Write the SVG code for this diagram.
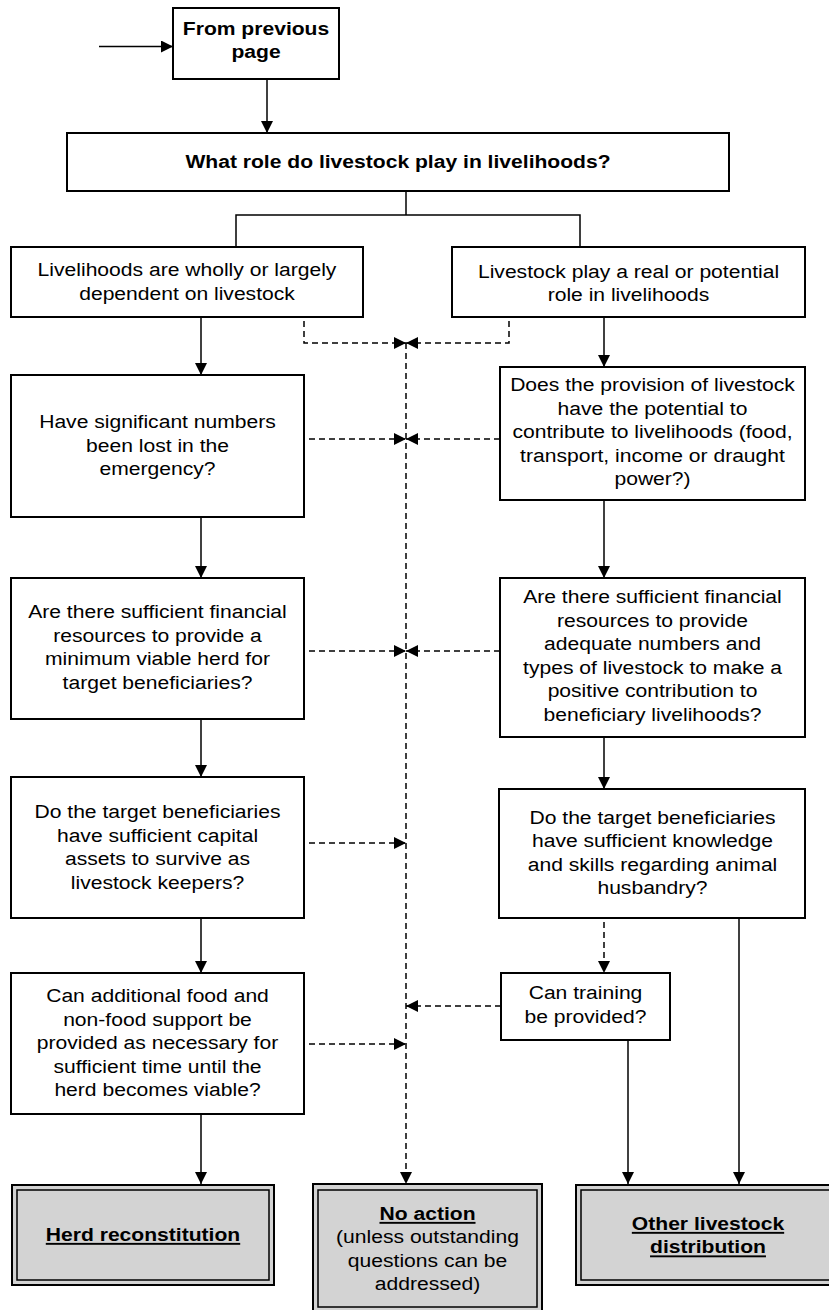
<svg xmlns="http://www.w3.org/2000/svg" width="829" height="1310" viewBox="0 0 829 1310">
<style>
.box{fill:#fff;stroke:#000;stroke-width:2}
.out{fill:#d3d3d3;stroke:#000;stroke-width:2}
.in{fill:none;stroke:#000;stroke-width:1.5}
.t{font-family:"Liberation Sans",Arial,sans-serif;font-size:19px;fill:#000;text-anchor:middle}
.b{font-weight:bold}
.u{text-decoration:underline}
.c{fill:none;stroke:#000;stroke-width:1.5}
.d{fill:none;stroke:#000;stroke-width:1.5;stroke-dasharray:6 4}
</style>
<defs>
<marker id="ah" markerUnits="userSpaceOnUse" markerWidth="12" markerHeight="12" refX="12" refY="6" orient="auto">
<path d="M0,0 L12,6 L0,12 z" fill="#000"/>
</marker>
</defs>
<g id="connectors">
<line class="c" x1="99" y1="46.5" x2="173" y2="46.5" marker-end="url(#ah)"/>
<line class="c" x1="267" y1="79" x2="267" y2="133" marker-end="url(#ah)"/>
<polyline class="c" points="406,191 406,215"/>
<polyline class="c" points="236,247 236,215 580,215 580,247"/>
<line class="c" x1="201" y1="317" x2="201" y2="375" marker-end="url(#ah)"/>
<line class="c" x1="201" y1="517" x2="201" y2="578" marker-end="url(#ah)"/>
<line class="c" x1="201" y1="719" x2="201" y2="777" marker-end="url(#ah)"/>
<line class="c" x1="201" y1="918" x2="201" y2="973" marker-end="url(#ah)"/>
<line class="c" x1="201" y1="1114" x2="201" y2="1184" marker-end="url(#ah)"/>
<line class="c" x1="604" y1="317" x2="604" y2="367" marker-end="url(#ah)"/>
<line class="c" x1="604" y1="500" x2="604" y2="578" marker-end="url(#ah)"/>
<line class="c" x1="604" y1="737" x2="604" y2="789" marker-end="url(#ah)"/>
<line class="d" x1="604" y1="922" x2="604" y2="973" marker-end="url(#ah)"/>
<line class="c" x1="628" y1="1040" x2="628" y2="1184" marker-end="url(#ah)"/>
<line class="c" x1="739" y1="918" x2="739" y2="1184" marker-end="url(#ah)"/>
<line class="d" x1="406" y1="343" x2="406" y2="1184" marker-end="url(#ah)"/>
<polyline class="d" points="304,321 304,343 406,343" marker-end="url(#ah)"/>
<polyline class="d" points="509,321 509,343 406,343" marker-end="url(#ah)"/>
<line class="d" x1="309" y1="439" x2="406" y2="439" marker-end="url(#ah)"/>
<line class="d" x1="500" y1="439" x2="406" y2="439" marker-end="url(#ah)"/>
<line class="d" x1="309" y1="651" x2="406" y2="651" marker-end="url(#ah)"/>
<line class="d" x1="500" y1="651" x2="406" y2="651" marker-end="url(#ah)"/>
<line class="d" x1="309" y1="843" x2="406" y2="843" marker-end="url(#ah)"/>
<line class="d" x1="501" y1="1006" x2="406" y2="1006" marker-end="url(#ah)"/>
<line class="d" x1="309" y1="1044" x2="406" y2="1044" marker-end="url(#ah)"/>
</g>
<g id="from-previous">
<rect class="box" x="173" y="8" width="166" height="71"/>
<text class="t b" transform="translate(256 0) scale(1.11 1)"><tspan x="0" y="35">From previous</tspan><tspan x="0" y="58.5">page</tspan></text>
</g>
<g id="role">
<rect class="box" x="67" y="133" width="662" height="58"/>
<text class="t b" transform="translate(398 0) scale(1.11 1)"><tspan x="0" y="168">What role do livestock play in livelihoods?</tspan></text>
</g>
<g id="dependent">
<rect class="box" x="11" y="247" width="352" height="70"/>
<text class="t" transform="translate(187 0) scale(1.11 1)"><tspan x="0" y="276.5">Livelihoods are wholly or largely</tspan><tspan x="0" y="300">dependent on livestock</tspan></text>
</g>
<g id="role-real">
<rect class="box" x="452" y="247" width="353" height="70"/>
<text class="t" transform="translate(628.5 0) scale(1.11 1)"><tspan x="0" y="278">Livestock play a real or potential</tspan><tspan x="0" y="301.5">role in livelihoods</tspan></text>
</g>
<g id="lost">
<rect class="box" x="11" y="375" width="293" height="142"/>
<text class="t" transform="translate(157.5 0) scale(1.11 1)"><tspan x="0" y="428.5">Have significant numbers</tspan><tspan x="0" y="452">been lost in the</tspan><tspan x="0" y="475.5">emergency?</tspan></text>
</g>
<g id="potential">
<rect class="box" x="500" y="367" width="305" height="133"/>
<text class="t" transform="translate(652.5 0) scale(1.11 1)"><tspan x="0" y="391.5">Does the provision of livestock</tspan><tspan x="0" y="415">have the potential to</tspan><tspan x="0" y="438.5">contribute to livelihoods (food,</tspan><tspan x="0" y="462">transport, income or draught</tspan><tspan x="0" y="485.5">power?)</tspan></text>
</g>
<g id="finance-left">
<rect class="box" x="11" y="578" width="293" height="141"/>
<text class="t" transform="translate(157.5 0) scale(1.11 1)"><tspan x="0" y="618.5">Are there sufficient financial</tspan><tspan x="0" y="642">resources to provide a</tspan><tspan x="0" y="665.5">minimum viable herd for</tspan><tspan x="0" y="689">target beneficiaries?</tspan></text>
</g>
<g id="finance-right">
<rect class="box" x="500" y="578" width="305" height="159"/>
<text class="t" transform="translate(652.5 0) scale(1.11 1)"><tspan x="0" y="603.5">Are there sufficient financial</tspan><tspan x="0" y="627">resources to provide</tspan><tspan x="0" y="650.5">adequate numbers and</tspan><tspan x="0" y="674">types of livestock to make a</tspan><tspan x="0" y="697.5">positive contribution to</tspan><tspan x="0" y="721">beneficiary livelihoods?</tspan></text>
</g>
<g id="capital">
<rect class="box" x="11" y="777" width="293" height="141"/>
<text class="t" transform="translate(157.5 0) scale(1.11 1)"><tspan x="0" y="818.5">Do the target beneficiaries</tspan><tspan x="0" y="842">have sufficient capital</tspan><tspan x="0" y="865.5">assets to survive as</tspan><tspan x="0" y="889">livestock keepers?</tspan></text>
</g>
<g id="knowledge">
<rect class="box" x="499" y="789" width="306" height="129"/>
<text class="t" transform="translate(652.5 0) scale(1.11 1)"><tspan x="0" y="824">Do the target beneficiaries</tspan><tspan x="0" y="847.5">have sufficient knowledge</tspan><tspan x="0" y="871">and skills regarding animal</tspan><tspan x="0" y="894.5">husbandry?</tspan></text>
</g>
<g id="support">
<rect class="box" x="11" y="973" width="293" height="141"/>
<text class="t" transform="translate(157.5 0) scale(1.11 1)"><tspan x="0" y="1002.5">Can additional food and</tspan><tspan x="0" y="1026">non-food support be</tspan><tspan x="0" y="1049.5">provided as necessary for</tspan><tspan x="0" y="1073">sufficient time until the</tspan><tspan x="0" y="1096.5">herd becomes viable?</tspan></text>
</g>
<g id="training">
<rect class="box" x="501" y="973" width="169" height="67"/>
<text class="t" transform="translate(585.5 0) scale(1.11 1)"><tspan x="0" y="999.5">Can training</tspan><tspan x="0" y="1023">be provided?</tspan></text>
</g>
<g id="herd">
<rect class="out" x="12" y="1185" width="262" height="100"/>
<rect class="in" x="17" y="1190" width="252" height="90"/>
<text class="t b u" transform="translate(143 0) scale(1.11 1)"><tspan x="0" y="1241">Herd reconstitution</tspan></text>
</g>
<g id="no-action">
<rect class="out" x="313" y="1184" width="229" height="127"/>
<rect class="in" x="318" y="1190" width="219" height="117"/>
<text class="t" transform="translate(427.5 0) scale(1.11 1)"><tspan x="0" y="1220" class="b u">No action</tspan><tspan x="0" y="1243.5">(unless outstanding</tspan><tspan x="0" y="1267">questions can be</tspan><tspan x="0" y="1290">addressed)</tspan></text>
</g>
<g id="other">
<rect class="out" x="576" y="1185" width="264" height="100"/>
<rect class="in" x="581" y="1190" width="254" height="90"/>
<text class="t b u" transform="translate(708 0) scale(1.11 1)"><tspan x="0" y="1230">Other livestock</tspan><tspan x="0" y="1253.5">distribution</tspan></text>
</g>
</svg>
